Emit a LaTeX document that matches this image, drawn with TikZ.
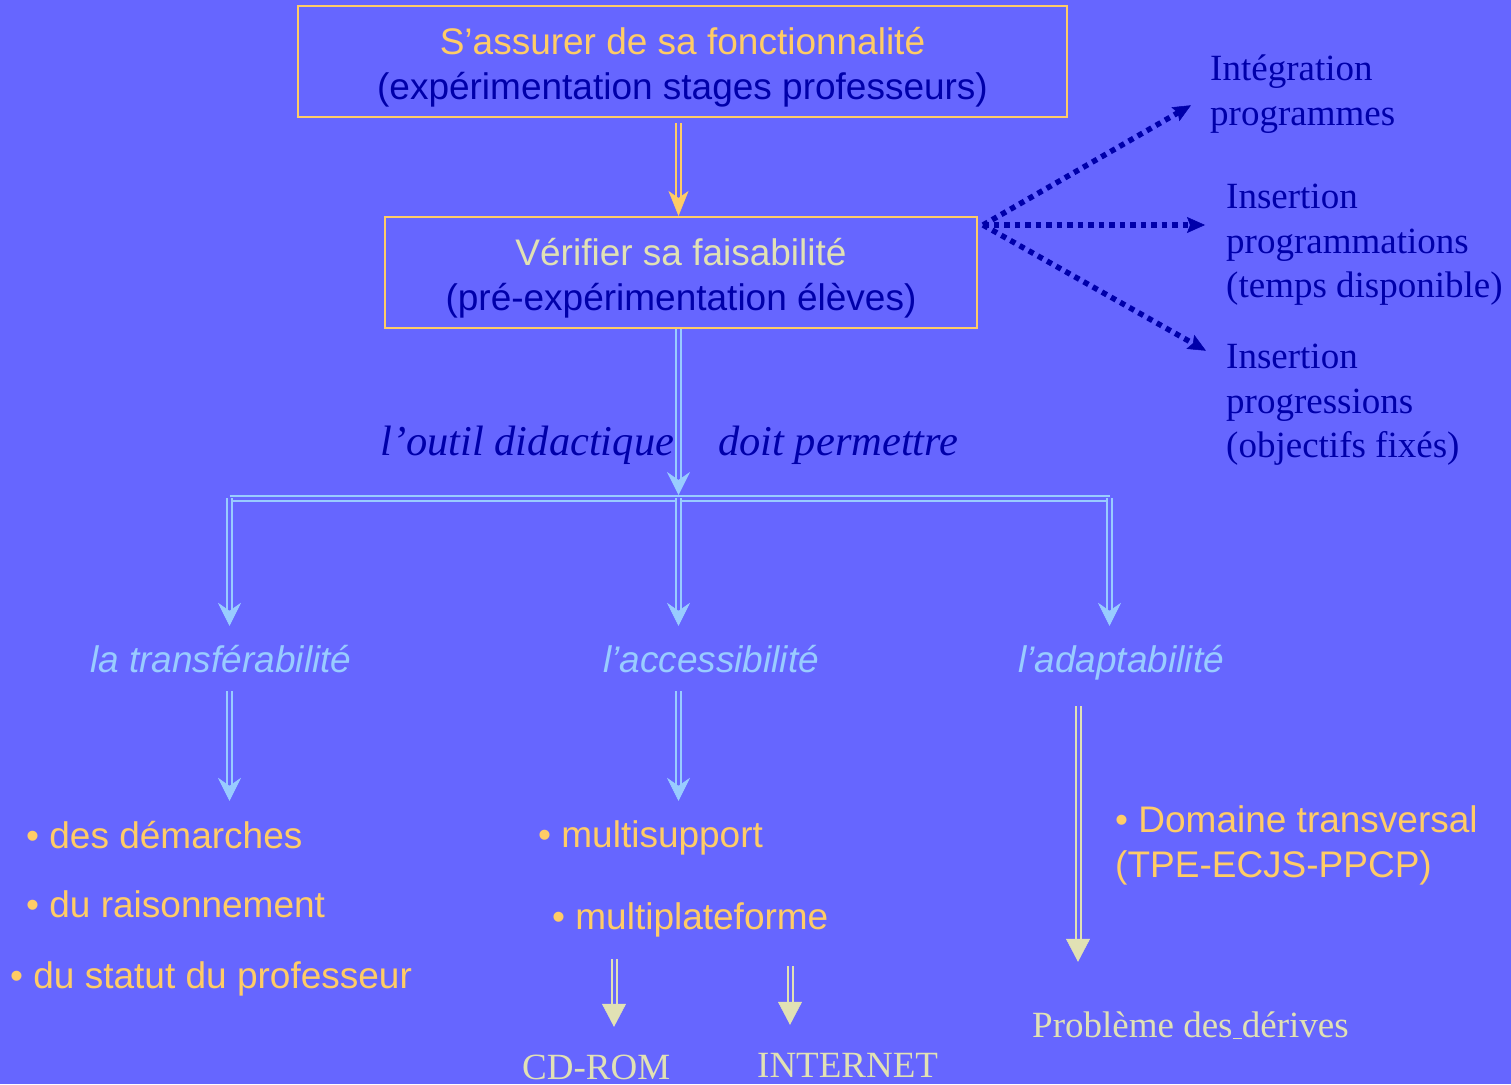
\documentclass[tikz,border=0pt]{standalone}
\usepackage{fontspec}
\setmainfont{Liberation Serif}
\setsansfont{Liberation Sans}
\usetikzlibrary{arrows.meta,calc}
\definecolor{bg}{RGB}{102,102,255}
\definecolor{orng}{RGB}{255,204,102}
\definecolor{navy}{RGB}{0,0,170}
\definecolor{lblue}{RGB}{153,204,255}
\definecolor{pale}{RGB}{225,225,180}
\begin{document}
\begin{tikzpicture}[x=1pt,y=-1pt,
  sfn/.style={font=\sffamily\fontsize{37}{45}\selectfont},
  sfi/.style={font=\sffamily\itshape\fontsize{37}{45}\selectfont},
  rmn/.style={font=\rmfamily\fontsize{37}{44.5}\selectfont},
  rmi/.style={font=\rmfamily\itshape\fontsize{42.5}{50}\selectfont},
  lbl/.style={inner sep=0pt, anchor=base west, text height=28pt, text depth=8pt},
  blk/.style={inner sep=0pt, anchor=north west, align=left},
  box/.style={draw=orng, line width=2pt, minimum height=111pt, sfn, align=center, inner sep=0pt},
  dbl/.style={draw=#1, line width=2pt, double=bg, double distance=3pt},
  otip/.style={-{Stealth[length=25pt,width=20pt,inset=7pt,line width=0.5pt]}},
  barb/.style={-{Stealth[length=23pt,width=23pt,inset=8pt,line width=0.5pt]}},
  tri/.style={-{Stealth[length=23pt,width=24pt,inset=0pt,line width=0.5pt]}},
  dots/.style={draw=navy, line width=5.5pt, dash pattern=on 5.5pt off 5pt, -{Stealth[length=18pt,width=16pt,inset=3pt,line width=0.5pt]}},
]
\fill[bg] (0,0) rectangle (1511,1084);
\useasboundingbox (0,0) rectangle (1511,1084);

% boxes
\node[box, minimum width=769pt] (b1) at (682.5,61.5)
  {\rule{0pt}{38pt}\textcolor{orng}{S’assurer de sa fonctionnalité}\\\textcolor{navy}{(expérimentation stages professeurs)}};
\node[box, minimum width=592pt] (b2) at (681,272.5)
  {\rule{0pt}{38pt}\textcolor{pale}{Vérifier sa faisabilité}\\\textcolor{navy}{(pré-expérimentation élèves)}};

% right blocks
\node[blk, rmn, text=navy] (integ) at (1210,55) {Intégration\\programmes};
\node[blk, rmn, text=navy] (ins1) at (1226,184) {Insertion\\programmations\\(temps disponible)};
\node[blk, rmn, text=navy] (ins2) at (1226,344) {Insertion\\progressions\\(objectifs fixés)};

% middle phrase
\node[lbl, rmi, text=navy] (outil) at (380,455) {l’outil didactique};
\node[lbl, rmi, text=navy] (doit) at (718,455) {doit permettre};

% level labels
\node[lbl, sfi, text=lblue] (t1) at (90,672) {la transférabilité};
\node[lbl, sfi, text=lblue] (t2) at (603,672) {l’accessibilité};
\node[lbl, sfi, text=lblue] (t3) at (1018,672) {l’adaptabilité};

% bullets
\node[lbl, sfn, text=orng] (d1) at (26,848) {• des démarches};
\node[lbl, sfn, text=orng] (d2) at (26,917) {• du raisonnement};
\node[lbl, sfn, text=orng] (d3) at (10,988) {• du statut du professeur};
\node[lbl, sfn, text=orng] (ms) at (538,847) {• multisupport};
\node[lbl, sfn, text=orng] (mp) at (552,929) {• multiplateforme};
\node[blk, sfn, text=orng] (dom) at (1115,805) {• Domaine transversal\\(TPE-ECJS-PPCP)};

% bottom texts
\node[lbl, rmn, text=pale] (cd) at (522,1079) {CD-ROM};
\node[lbl, rmn, text=pale] (inet) at (757,1077) {INTERNET};
\node[lbl, rmn, text=pale] (pb) at (1032,1037) {Problème des\underline{\ }dérives};

% coordinates
\coordinate (barL) at (229.5,498);
\coordinate (barM) at (678.5,498);
\coordinate (barR) at (1109.5,498);
\coordinate (fan) at ($(b2.north east)+(5,9)$);
\coordinate (r3) at ($(t3.south west)+(60,0)$);
\coordinate (r4) at ($(mp.south west)+(62,0)$);
\coordinate (r5) at ($(mp.south west)+(238,0)$);
\coordinate (i2) at ($(ins2.north west)+(0,18)$);

% connectors
\draw[dbl=orng, otip, shorten <=5pt] (b1.south -| barM) -- (b2.north -| barM);
\draw[dbl=lblue] (barL) -- (barR);
\draw[dbl=lblue, barb, shorten >=3pt] (b2.south -| barM) -- (barM);
\draw[dbl=lblue, barb, shorten >=18pt] (barL) -- (barL |- t1.north);
\draw[dbl=lblue, barb, shorten >=18pt] (barM) -- (barM |- t2.north);
\draw[dbl=lblue, barb, shorten >=18pt] (barR) -- (barR |- t3.north);
\draw[dbl=lblue, barb, shorten <=11pt, shorten >=19pt] (barL |- t1.south) -- (barL |- d1.north);
\draw[dbl=lblue, barb, shorten <=11pt, shorten >=18pt] (barM |- t2.south) -- (barM |- ms.north);
\draw[dbl=pale, tri, shorten <=26pt, shorten >=47pt] (r3) -- (r3 |- pb.north);
\draw[dbl=pale, tri, shorten <=22pt, shorten >=24pt] (r4) -- (r4 |- cd.north);
\draw[dbl=pale, tri, shorten <=29pt, shorten >=24pt] (r5) -- (r5 |- inet.north);

\draw[dots, shorten >=22pt] (fan) -- (integ.west);
\draw[dots, shorten >=21pt] (fan) -- (fan -| ins1.west);
\draw[dots, shorten >=23pt] (fan) -- (i2);
\end{tikzpicture}
\end{document}
